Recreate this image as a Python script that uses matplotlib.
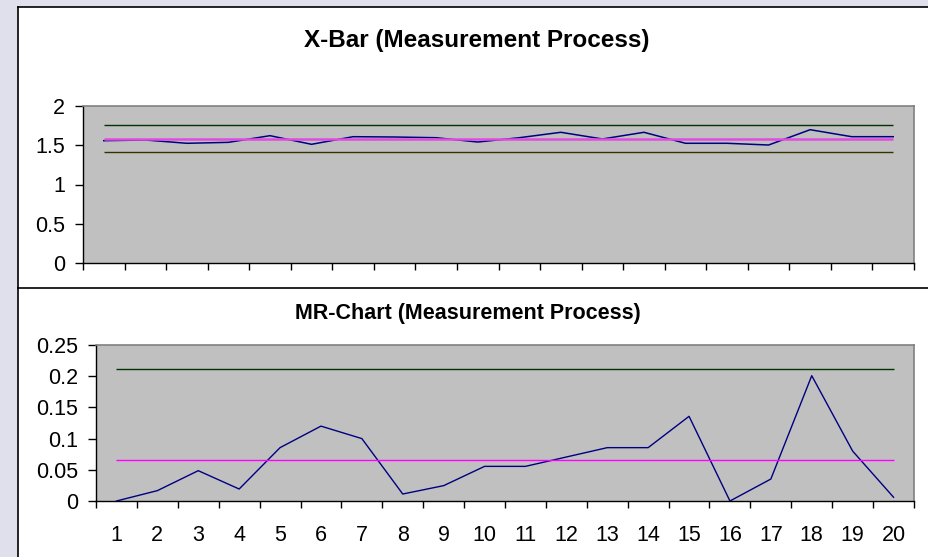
import matplotlib
matplotlib.use("Agg")
import matplotlib.pyplot as plt
from matplotlib.patches import Rectangle
from matplotlib.lines import Line2D
from matplotlib.ticker import FixedLocator, NullFormatter

plt.rcParams['font.family'] = ['Liberation Sans', 'DejaVu Sans']

# ---- data ----
samples = list(range(1, 21))
sample_labels = [str(s) for s in samples]
xbar_values = [1.558, 1.567, 1.525, 1.537, 1.622, 1.512, 1.609, 1.605, 1.596, 1.541,
               1.596, 1.665, 1.580, 1.665, 1.525, 1.525, 1.503, 1.698, 1.609, 1.609]
xbar_center = 1.580
xbar_ucl = 1.753
xbar_lcl = 1.410
mr_values = [0.0, 0.0166, 0.0486, 0.0192, 0.0855, 0.120, 0.100, 0.0112, 0.0246, 0.0555,
             0.0555, 0.0705, 0.0855, 0.0855, 0.1357, 0.0, 0.0352, 0.2008, 0.080, 0.006]
mr_center = 0.0652
mr_ucl = 0.211
xbar_yticks = [0, 0.5, 1, 1.5, 2]
xbar_yticklabels = ["0", "0.5", "1", "1.5", "2"]
mr_yticks = [0, 0.05, 0.1, 0.15, 0.2, 0.25]
mr_yticklabels = ["0", "0.05", "0.1", "0.15", "0.2", "0.25"]

W, H = 929, 557
fig = plt.figure(figsize=(W / 100, H / 100), dpi=100)
fig.patch.set_facecolor('#e0e0ec')


def fx(px):
    return px / W


def fy(py):
    return 1 - py / H


def add_panel(x0, y0, y1, z):
    rect = Rectangle((fx(x0), fy(y1)), 1.0 - fx(x0), fy(y0) - fy(y1),
                     transform=fig.transFigure, facecolor='white', edgecolor='none',
                     zorder=z)
    fig.add_artist(rect)
    top = Line2D([fx(x0), 1.0], [fy(y0), fy(y0)], transform=fig.transFigure,
                 color='black', lw=1.2, zorder=z)
    left = Line2D([fx(x0), fx(x0)], [fy(y0), fy(y1)], transform=fig.transFigure,
                  color='black', lw=1.2, zorder=z)
    fig.add_artist(top)
    fig.add_artist(left)


add_panel(18, 7, 288, 0)
add_panel(18, 288, 557, 2)

TICK_FS = 15.5


def make_axes(left, top, right, bottom, z):
    ax = fig.add_axes([fx(left), fy(bottom), fx(right) - fx(left), fy(top) - fy(bottom)])
    ax.set_zorder(z)
    ax.set_facecolor('#c0c0c0')
    for side in ['top', 'right']:
        ax.spines[side].set_color('#808080')
        ax.spines[side].set_linewidth(1.2)
    for side in ['left', 'bottom']:
        ax.spines[side].set_color('black')
        ax.spines[side].set_linewidth(1.0)
    ax.set_xlim(0.5, 20.5)
    bounds = [s - 0.5 for s in samples] + [samples[-1] + 0.5]
    ax.xaxis.set_major_locator(FixedLocator(bounds))
    ax.xaxis.set_major_formatter(NullFormatter())
    ax.xaxis.set_minor_locator(FixedLocator(samples))
    ax.set_xticklabels(sample_labels, minor=True)
    ax.tick_params(axis='x', which='major', direction='out', length=5, width=1, color='black')
    ax.tick_params(axis='x', which='minor', length=0, pad=17, labelsize=TICK_FS)
    ax.tick_params(axis='y', direction='out', length=6, width=1, pad=7, labelsize=TICK_FS)
    return ax


# X-bar chart
ax1 = make_axes(83, 106, 914, 263, 1)
ax1.plot(samples, xbar_values, color='#000080', lw=1.1, zorder=3)
ax1.hlines(xbar_ucl, samples[0], samples[-1], color='#003300', lw=1.0, zorder=4)
ax1.hlines(xbar_center, samples[0], samples[-1], color='#e04ce0', lw=1.8, zorder=4)
ax1.hlines(xbar_lcl, samples[0], samples[-1], color='#333300', lw=1.0, zorder=4)
ax1.set_ylim(0, 2)
ax1.set_yticks(xbar_yticks)
ax1.set_yticklabels(xbar_yticklabels)

# MR chart
ax2 = make_axes(96, 345, 914, 501, 3)
ax2.plot(samples, mr_values, color='#000080', lw=1.0, zorder=3)
ax2.hlines(mr_ucl, samples[0], samples[-1], color='#003300', lw=1.0, zorder=4)
ax2.hlines(mr_center, samples[0], samples[-1], color='#ff00ff', lw=1.0, zorder=4)
ax2.set_ylim(0, 0.25)
ax2.set_yticks(mr_yticks)
ax2.set_yticklabels(mr_yticklabels)

t1 = fig.text(fx(477), fy(40), "X-Bar (Measurement Process)", ha='center', va='center',
              fontsize=17.5, fontweight='bold', zorder=1)
t2 = fig.text(fx(468), fy(314), "MR-Chart (Measurement Process)", ha='center', va='center',
              fontsize=15.5, fontweight='bold', zorder=3)

fig.savefig("out.png", dpi=100, facecolor=fig.get_facecolor())
